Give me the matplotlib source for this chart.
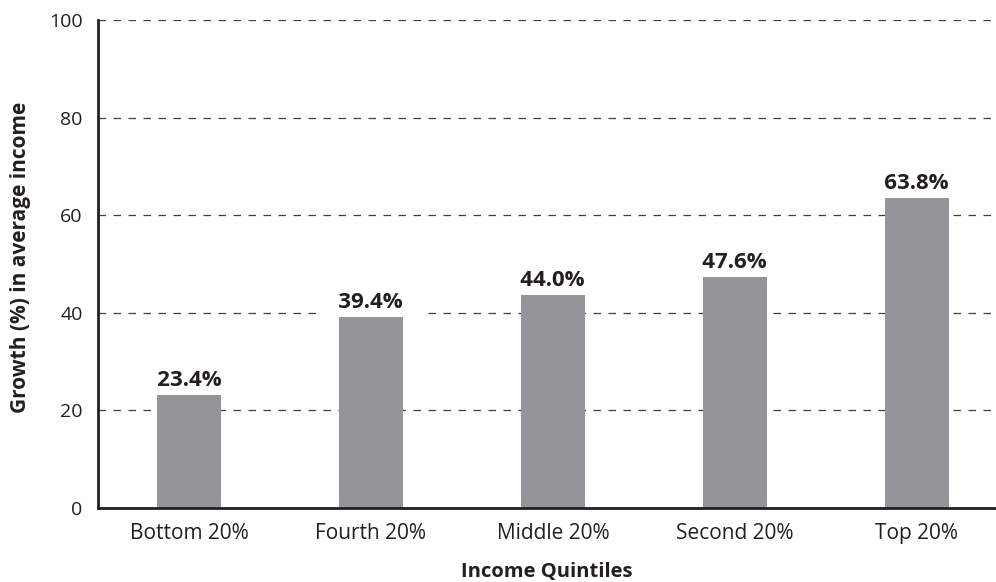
import matplotlib.pyplot as plt

plt.rcParams['font.family'] = ['Open Sans', 'DejaVu Sans']

# Growth in average income by quintile
quintiles = ["Bottom 20%", "Fourth 20%", "Middle 20%", "Second 20%", "Top 20%"]
growth = [23.4, 39.4, 44.0, 47.6, 63.8]
yticks = [0, 20, 40, 60, 80, 100]

fig = plt.figure(figsize=(9.96, 5.82), dpi=100)
ax = fig.add_axes([0.0984, 0.1271, 0.9006, 0.8385])

ax.yaxis.grid(True, linestyle=(0, (6, 6)), color='#3f3f3f', linewidth=0.9)
ax.set_axisbelow(True)

x = range(len(quintiles))
bars = ax.bar(x, growth, width=0.35, color='#939598', zorder=2)

# value labels sit in a white box so the gridlines break around them
for xi, val in zip(x, growth):
    ax.annotate(f"   {val:.1f}%   ", (xi, val), xytext=(0, 2), textcoords='offset points',
                ha='center', va='bottom', fontsize=16, fontweight='bold', color='#231f20',
                zorder=3, bbox=dict(facecolor='white', edgecolor='none', pad=3))

ax.set_xlim(-0.5, 4.43)
ax.set_ylim(0, 100)
ax.set_yticks(yticks)
ax.set_xticks(list(x))
ax.set_xticklabels(quintiles)
ax.tick_params(axis='x', length=0, labelsize=15, colors='#231f20', pad=10.5)
ax.tick_params(axis='y', length=0, labelsize=14, colors='#231f20', pad=11)

for side in ['top', 'right']:
    ax.spines[side].set_visible(False)
for side in ['left', 'bottom']:
    ax.spines[side].set_linewidth(2)
    ax.spines[side].set_color('#231f20')

ax.set_xlabel("Income Quintiles", fontsize=14.5, fontweight='bold', color='#231f20', labelpad=13.5)
ax.set_ylabel("Growth (%) in average income", fontsize=15, fontweight='bold', color='#231f20')
ax.yaxis.set_label_coords(-0.0747, 0.514)

plt.savefig("out.png", dpi=100)
